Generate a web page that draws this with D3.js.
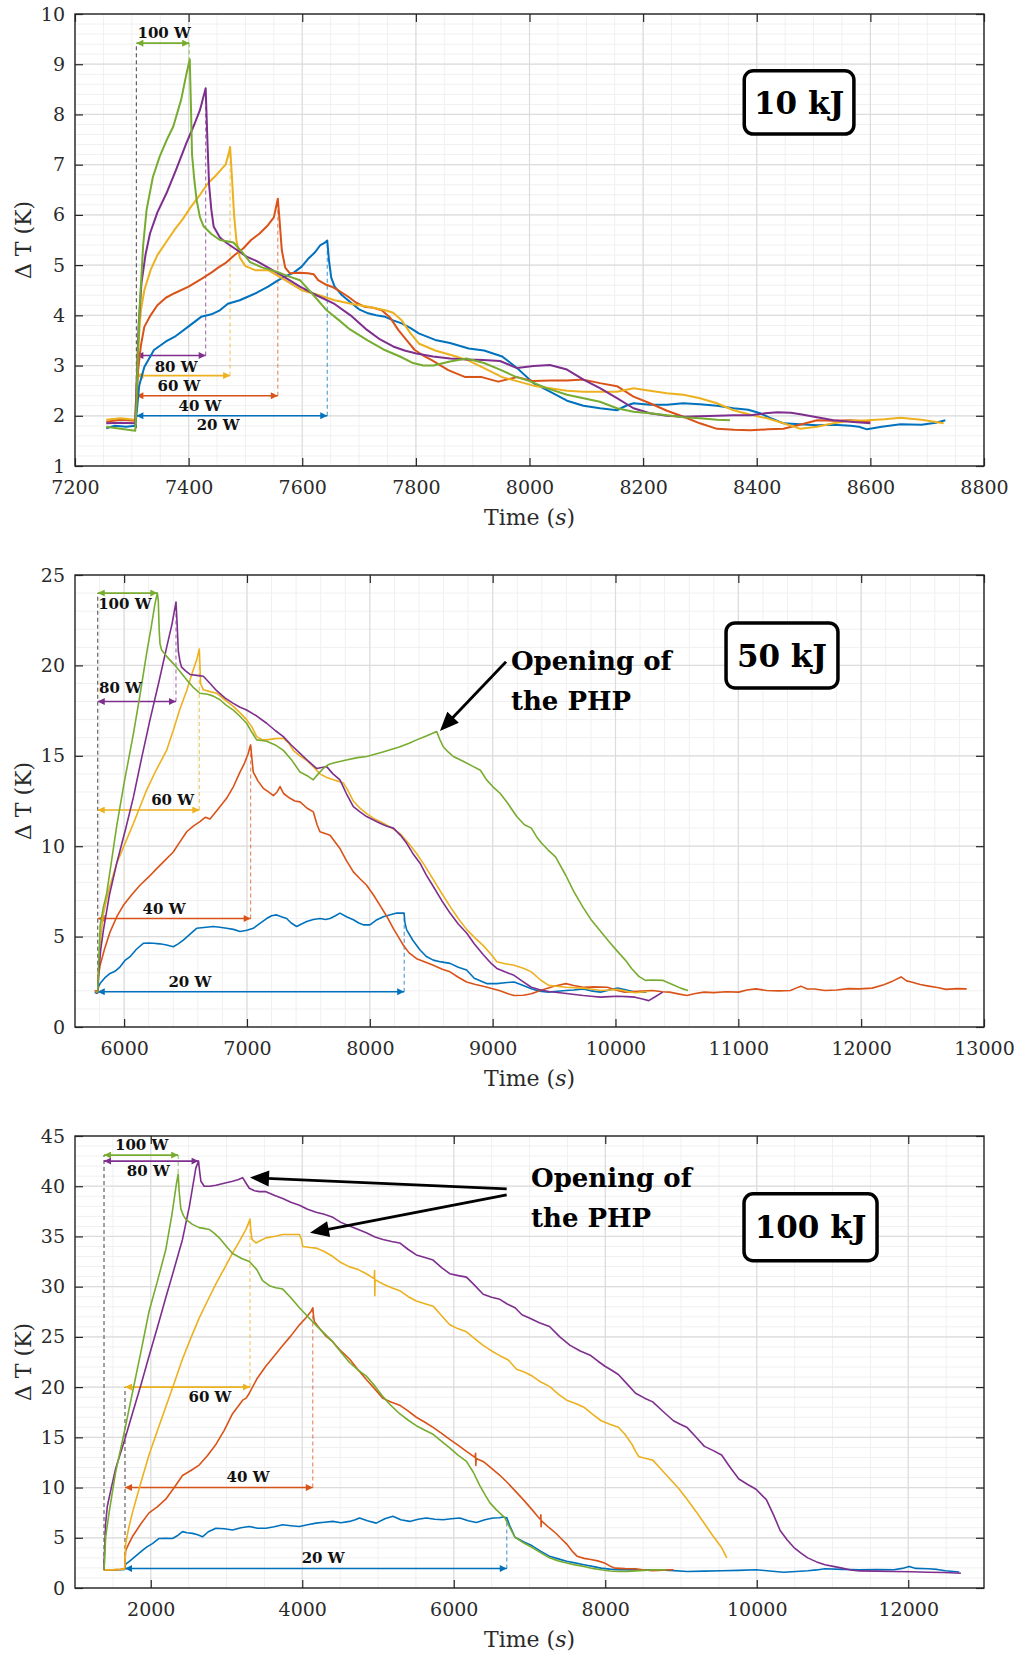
<!DOCTYPE html>
<html><head><meta charset="utf-8">
<script src="https://cdn.jsdelivr.net/npm/d3@7"></script>
<style>body{margin:0;background:#fff}</style>
</head><body>
<svg id="c" width="1021" height="1657"></svg>
<script>
// ---------------- DATA ----------------
const powers = ['20 W','40 W','60 W','80 W','100 W'];
const powerColors = ['#0072BD','#D95319','#EDB120','#7E2F8E','#77AC30'];

// ---- 10 kJ ----
const kJ10_xTicks = [7200,7400,7600,7800,8000,8200,8400,8600,8800];
const kJ10_yTicks = [1,2,3,4,5,6,7,8,9,10];
const kJ10_20W = [[7255,1.75],[7270,1.8],[7290,1.78],[7306,1.8],[7308,2.0],[7313,2.6],[7322,2.97],[7339,3.31],[7360,3.48],[7375,3.57],[7400,3.78],[7422,3.97],[7440,4.02],[7455,4.1],[7469,4.23],[7490,4.3],[7504,4.37],[7520,4.45],[7540,4.57],[7555,4.68],[7569,4.77],[7585,4.85],[7599,4.97],[7610,5.12],[7622,5.25],[7632,5.4],[7640,5.45],[7644,5.49],[7647,5.1],[7651,4.75],[7657,4.57],[7670,4.4],[7687,4.24],[7700,4.12],[7716,4.04],[7730,4.0],[7746,3.97],[7760,3.9],[7775,3.84],[7790,3.75],[7805,3.64],[7834,3.51],[7860,3.45],[7893,3.34],[7920,3.3],[7952,3.18],[7978,2.95],[8007,2.65],[8036,2.48],[8066,2.3],[8095,2.2],[8124,2.15],[8154,2.11],[8170,2.2],[8183,2.25],[8212,2.22],[8242,2.22],[8270,2.25],[8300,2.23],[8330,2.2],[8359,2.15],[8385,2.12],[8406,2.05],[8425,1.95],[8447,1.85],[8476,1.83],[8506,1.81],[8535,1.82],[8565,1.8],[8580,1.78],[8594,1.73],[8620,1.78],[8653,1.83],[8690,1.82],[8715,1.86],[8732,1.91]];
const kJ10_40W = [[7255,1.88],[7280,1.92],[7306,1.9],[7309,2.4],[7311,2.9],[7316,3.4],[7322,3.77],[7333,4.0],[7345,4.2],[7360,4.35],[7375,4.44],[7400,4.57],[7422,4.72],[7440,4.85],[7452,4.95],[7466,5.05],[7481,5.2],[7496,5.33],[7510,5.5],[7525,5.63],[7540,5.8],[7550,5.95],[7557,6.32],[7560,5.9],[7564,5.3],[7570,4.95],[7578,4.84],[7595,4.85],[7610,4.84],[7620,4.82],[7628,4.7],[7640,4.62],[7652,4.57],[7666,4.48],[7681,4.37],[7695,4.25],[7710,4.17],[7725,4.15],[7740,4.1],[7755,3.95],[7769,3.71],[7784,3.5],[7798,3.31],[7813,3.2],[7828,3.11],[7857,2.91],[7887,2.77],[7916,2.77],[7945,2.68],[7978,2.77],[8007,2.69],[8036,2.7],[8066,2.7],[8095,2.72],[8124,2.65],[8154,2.59],[8183,2.38],[8212,2.25],[8242,2.1],[8271,1.98],[8300,1.85],[8330,1.74],[8360,1.72],[8389,1.71],[8420,1.73],[8447,1.74],[8476,1.82],[8506,1.91],[8535,1.9],[8565,1.91],[8600,1.88]];
const kJ10_60W = [[7255,1.92],[7280,1.95],[7306,1.92],[7309,2.8],[7312,3.5],[7316,4.1],[7322,4.5],[7333,4.9],[7345,5.2],[7360,5.45],[7375,5.7],[7390,5.92],[7404,6.16],[7420,6.4],[7434,6.63],[7446,6.76],[7457,6.9],[7465,7.0],[7470,7.2],[7473,7.35],[7476,6.8],[7480,6.0],[7484,5.5],[7490,5.15],[7500,4.98],[7517,4.9],[7540,4.9],[7570,4.7],[7599,4.5],[7630,4.4],[7657,4.3],[7690,4.22],[7716,4.17],[7746,4.1],[7760,4.05],[7775,3.9],[7790,3.65],[7805,3.44],[7834,3.3],[7865,3.2],[7893,3.1],[7920,2.95],[7952,2.77],[7978,2.69],[8007,2.6],[8036,2.55],[8066,2.5],[8095,2.48],[8124,2.48],[8154,2.48],[8183,2.55],[8212,2.5],[8242,2.45],[8271,2.42],[8300,2.35],[8330,2.25],[8359,2.11],[8389,2.02],[8418,1.95],[8447,1.85],[8477,1.74],[8506,1.78],[8535,1.85],[8565,1.9],[8594,1.91],[8625,1.93],[8653,1.96],[8690,1.92],[8729,1.85]];
const kJ10_80W = [[7255,1.85],[7280,1.86],[7306,1.85],[7309,2.8],[7312,3.8],[7317,4.64],[7324,5.2],[7332,5.63],[7345,6.05],[7361,6.43],[7378,6.9],[7396,7.43],[7410,7.8],[7420,8.09],[7430,8.52],[7433,7.5],[7436,6.6],[7440,6.1],[7444,5.77],[7455,5.55],[7467,5.44],[7485,5.3],[7502,5.17],[7520,5.08],[7537,4.97],[7566,4.78],[7596,4.57],[7625,4.4],[7655,4.24],[7685,4.0],[7714,3.71],[7737,3.52],[7760,3.38],[7780,3.3],[7801,3.24],[7830,3.18],[7860,3.14],[7890,3.12],[7919,3.11],[7948,3.09],[7978,2.95],[8007,2.99],[8036,3.01],[8066,2.92],[8095,2.72],[8124,2.55],[8154,2.35],[8183,2.15],[8212,2.05],[8242,2.0],[8271,1.98],[8300,1.99],[8330,2.0],[8359,2.01],[8389,2.01],[8415,2.05],[8436,2.07],[8460,2.06],[8477,2.03],[8506,1.97],[8535,1.91],[8565,1.88],[8600,1.85]];
const kJ10_100W = [[7255,1.78],[7280,1.74],[7306,1.7],[7308,2.2],[7310,3.0],[7314,4.2],[7320,5.4],[7326,6.1],[7337,6.75],[7349,7.16],[7361,7.48],[7373,7.76],[7387,8.3],[7396,8.8],[7402,9.1],[7404,8.2],[7406,7.2],[7410,6.7],[7414,6.3],[7420,5.95],[7426,5.78],[7440,5.62],[7455,5.5],[7479,5.45],[7495,5.25],[7508,5.06],[7530,4.95],[7555,4.87],[7575,4.78],[7596,4.7],[7620,4.4],[7643,4.1],[7665,3.9],[7684,3.72],[7715,3.5],[7743,3.32],[7772,3.18],[7795,3.05],[7813,3.0],[7831,3.0],[7860,3.08],[7889,3.14],[7920,3.05],[7948,2.92],[7975,2.78],[8000,2.69],[8030,2.55],[8066,2.42],[8095,2.35],[8124,2.28],[8154,2.15],[8183,2.08],[8212,2.05],[8242,2.01],[8271,1.97],[8300,1.95],[8330,1.92],[8353,1.91]];
// arrows: [label, arrow level, start, end (heating stop), peak, label x, label y]
const kJ10_arrows = [
  ['100 W',9.42,7308,7401,9.1,7357,9.62],
  ['80 W',3.2,7308,7430,8.52,7378,2.98],
  ['60 W',2.8,7308,7473,7.35,7383,2.6],
  ['40 W',2.4,7308,7557,6.32,7420,2.2],
  ['20 W',2.0,7308,7644,5.49,7452,1.82]];
const kJ10_starts = [[7308,1.75,9.42]];

// ---- 50 kJ ----
const kJ50_xTicks = [6000,7000,8000,9000,10000,11000,12000,13000];
const kJ50_yTicks = [0,5,10,15,20,25];
const kJ50_20W = [[5760,1.9],[5785,1.9],[5790,2.2],[5804,2.4],[5840,2.7],[5885,2.96],[5930,3.1],[5967,3.33],[6010,3.7],[6048,3.89],[6100,4.3],[6156,4.63],[6200,4.65],[6238,4.63],[6290,4.6],[6346,4.54],[6400,4.44],[6440,4.6],[6482,4.81],[6530,5.1],[6590,5.46],[6650,5.5],[6726,5.56],[6780,5.52],[6834,5.46],[6890,5.4],[6943,5.28],[7000,5.35],[7051,5.46],[7100,5.7],[7160,6.0],[7200,6.15],[7242,6.2],[7280,6.1],[7323,6.0],[7360,5.75],[7404,5.56],[7445,5.7],[7486,5.83],[7540,5.95],[7594,6.0],[7640,5.95],[7676,6.0],[7720,6.15],[7757,6.3],[7810,6.1],[7866,5.93],[7910,5.75],[7947,5.65],[8001,5.65],[8050,5.9],[8110,6.1],[8160,6.2],[8219,6.3],[8279,6.3],[8285,5.8],[8300,5.37],[8350,4.8],[8409,4.26],[8460,3.9],[8517,3.7],[8580,3.6],[8653,3.52],[8720,3.3],[8788,3.15],[8850,2.7],[8951,2.4],[9034,2.4],[9100,2.45],[9174,2.49],[9250,2.3],[9315,2.11],[9380,1.98],[9456,1.93],[9530,1.98],[9596,2.02],[9660,2.05],[9737,2.11],[9800,2.0],[9878,1.93],[9950,2.05],[10018,2.15],[10090,2.05],[10159,1.93],[10250,1.93]];
const kJ50_40W = [[5760,2.0],[5785,2.0],[5790,2.8],[5804,3.4],[5840,4.3],[5885,5.25],[5940,6.1],[5994,6.73],[6060,7.3],[6129,7.84],[6200,8.3],[6265,8.76],[6330,9.2],[6400,9.68],[6450,10.2],[6509,10.8],[6560,11.1],[6617,11.36],[6660,11.6],[6699,11.5],[6770,12.1],[6834,12.65],[6890,13.3],[6943,14.1],[6980,14.6],[7011,15.14],[7024,15.5],[7030,15.6],[7038,15.0],[7051,14.1],[7090,13.6],[7133,13.2],[7175,13.0],[7215,12.8],[7245,13.0],[7269,13.3],[7300,12.9],[7350,12.65],[7390,12.5],[7432,12.45],[7490,12.1],[7540,11.9],[7570,11.2],[7594,10.8],[7636,10.7],[7676,10.6],[7720,10.2],[7757,9.87],[7810,9.2],[7866,8.58],[7920,8.2],[7974,7.84],[8030,7.3],[8083,6.73],[8140,6.1],[8192,5.44],[8240,4.9],[8273,4.52],[8320,4.1],[8381,3.78],[8450,3.6],[8517,3.41],[8590,3.2],[8653,3.05],[8720,2.75],[8788,2.49],[8860,2.35],[8924,2.25],[9000,2.12],[9060,2.0],[9120,1.85],[9174,1.74],[9250,1.76],[9315,1.84],[9400,2.05],[9500,2.25],[9596,2.4],[9660,2.3],[9737,2.2],[9830,2.22],[9934,2.2],[10000,2.05],[10074,1.93],[10180,1.98],[10300,2.02],[10380,1.95],[10440,1.93],[10520,1.82],[10581,1.74],[10650,1.85],[10722,1.93],[10800,1.9],[10900,1.95],[11003,1.93],[11070,2.05],[11143,2.11],[11230,2.02],[11330,2.0],[11425,2.02],[11470,2.15],[11509,2.26],[11560,2.1],[11620,2.1],[11706,2.02],[11800,2.05],[11900,2.12],[11987,2.11],[12090,2.15],[12184,2.34],[12260,2.55],[12325,2.77],[12370,2.55],[12409,2.49],[12480,2.35],[12550,2.26],[12620,2.18],[12690,2.08],[12780,2.12],[12859,2.11]];
const kJ50_60W = [[5770,1.9],[5785,1.95],[5795,3.5],[5810,5.0],[5831,6.27],[5880,7.7],[5939,9.04],[6010,10.2],[6075,11.25],[6130,12.2],[6183,13.1],[6260,14.2],[6346,15.3],[6380,16.0],[6400,16.4],[6450,17.5],[6509,18.6],[6550,19.5],[6590,20.3],[6612,20.9],[6617,20.0],[6622,19.0],[6645,18.65],[6700,18.55],[6753,18.46],[6820,18.1],[6889,17.73],[6940,17.4],[6997,17.0],[7040,16.6],[7079,16.06],[7120,15.9],[7160,15.88],[7230,15.95],[7296,15.97],[7340,15.7],[7377,15.3],[7430,15.0],[7486,14.75],[7540,14.4],[7594,14.0],[7650,13.8],[7703,13.67],[7740,13.6],[7784,13.5],[7820,13.1],[7866,12.5],[7920,12.1],[7974,11.8],[8040,11.5],[8110,11.27],[8180,11.0],[8246,10.7],[8310,10.2],[8381,9.6],[8450,8.9],[8517,8.15],[8585,7.4],[8653,6.67],[8720,6.0],[8788,5.4],[8860,4.9],[8924,4.5],[8990,4.0],[9034,3.61],[9100,3.5],[9174,3.42],[9250,3.25],[9315,3.05],[9390,2.6],[9456,2.3],[9520,2.25],[9596,2.2],[9660,2.18],[9737,2.15],[9800,2.1],[9878,2.02],[9950,2.05],[10018,2.08],[10090,1.98],[10159,1.89],[10220,1.94],[10271,1.96]];
const kJ50_80W = [[5770,1.85],[5785,1.9],[5795,3.2],[5810,4.3],[5831,5.35],[5880,7.3],[5939,9.04],[6010,10.9],[6075,12.7],[6140,14.8],[6210,16.97],[6280,19.0],[6346,21.0],[6390,22.3],[6422,23.5],[6430,22.5],[6441,20.8],[6455,20.2],[6468,19.9],[6500,19.7],[6536,19.5],[6590,19.45],[6645,19.4],[6700,19.0],[6753,18.6],[6820,18.2],[6889,17.9],[6940,17.7],[6997,17.53],[7080,17.2],[7160,16.8],[7230,16.4],[7296,16.06],[7360,15.6],[7432,15.13],[7500,14.7],[7567,14.3],[7610,14.35],[7649,14.4],[7700,14.0],[7757,13.67],[7810,12.9],[7866,12.19],[7920,11.9],[7974,11.64],[8030,11.45],[8083,11.27],[8140,11.1],[8192,11.0],[8250,10.6],[8300,10.16],[8350,9.6],[8409,9.06],[8460,8.4],[8517,7.77],[8585,7.0],[8653,6.3],[8720,5.7],[8788,5.2],[8850,4.6],[8924,4.0],[8990,3.5],[9034,3.24],[9100,3.05],[9174,2.86],[9250,2.5],[9315,2.2],[9390,2.05],[9456,1.96],[9600,1.85],[9737,1.74],[9800,1.7],[9878,1.65],[9950,1.68],[10018,1.7],[10090,1.68],[10159,1.65],[10220,1.55],[10271,1.46],[10330,1.7],[10384,1.93]];
const kJ50_100W = [[5770,1.9],[5785,1.95],[5792,3.5],[5805,5.6],[5830,6.6],[5858,7.39],[5900,9.3],[5939,11.1],[6000,13.5],[6075,16.2],[6130,18.4],[6183,20.67],[6220,22.1],[6251,23.4],[6270,24.0],[6278,23.6],[6285,22.0],[6292,21.2],[6305,20.85],[6346,20.5],[6400,20.1],[6450,19.7],[6509,19.2],[6560,18.8],[6617,18.46],[6680,18.4],[6726,18.3],[6780,18.1],[6830,17.8],[6889,17.53],[6940,17.2],[6997,16.8],[7040,16.3],[7079,15.88],[7120,15.85],[7160,15.8],[7230,15.6],[7296,15.3],[7360,14.8],[7432,14.1],[7490,13.9],[7540,13.67],[7580,14.0],[7622,14.3],[7660,14.5],[7703,14.6],[7800,14.75],[7900,14.9],[7974,14.96],[8100,15.2],[8246,15.5],[8320,15.7],[8381,15.88],[8460,16.1],[8544,16.34],[8570,15.9],[8598,15.5],[8640,15.2],[8680,14.96],[8760,14.7],[8843,14.4],[8900,14.2],[8951,13.67],[9000,13.3],[9060,12.93],[9120,12.4],[9196,11.64],[9259,11.19],[9315,11.0],[9360,10.5],[9399,10.16],[9450,9.8],[9512,9.41],[9596,8.38],[9660,7.5],[9737,6.6],[9800,5.95],[9878,5.29],[9950,4.7],[10018,4.17],[10080,3.7],[10131,3.24],[10190,2.8],[10243,2.58],[10300,2.6],[10384,2.58],[10430,2.45],[10468,2.34],[10530,2.15],[10590,2.02]];
const kJ50_arrows = [
  ['100 W',24.0,5785,6270,24.0,6006,23.4],
  ['80 W',18.0,5785,6422,23.5,5970,18.75],
  ['60 W',12.0,5785,6612,20.9,6395,12.55],
  ['40 W',6.0,5785,7030,15.6,6325,6.55],
  ['20 W',1.95,5785,8280,6.3,6535,2.5]];
const kJ50_starts = [[5785,1.9,24.0]];

// ---- 100 kJ ----
const kJ100_xTicks = [2000,4000,6000,8000,10000,12000];
const kJ100_yTicks = [0,5,10,15,20,25,30,35,40,45];
const kJ100_20W = [[1380,1.8],[1500,1.78],[1600,1.82],[1655,1.85],[1669,2.38],[1710,2.6],[1757,2.89],[1820,3.3],[1890,3.74],[1950,4.1],[2022,4.42],[2110,4.93],[2200,4.95],[2287,4.93],[2350,5.2],[2419,5.61],[2480,5.5],[2551,5.44],[2620,5.3],[2683,5.1],[2760,5.6],[2860,5.95],[2970,5.9],[3080,5.78],[3190,6.0],[3301,6.12],[3410,5.95],[3521,5.95],[3630,6.1],[3742,6.29],[3850,6.2],[3963,6.12],[4070,6.3],[4183,6.46],[4290,6.55],[4404,6.63],[4510,6.5],[4624,6.63],[4700,6.8],[4756,6.97],[4860,6.7],[4977,6.46],[5090,6.9],[5197,7.14],[5300,6.8],[5418,6.63],[5530,6.85],[5638,6.97],[5750,6.85],[5859,6.8],[5970,6.9],[6080,6.97],[6190,6.7],[6300,6.53],[6410,6.8],[6520,6.97],[6600,7.0],[6653,7.07],[6700,7.0],[6740,6.2],[6809,5.05],[6920,4.6],[7036,4.2],[7150,3.65],[7264,3.17],[7380,2.9],[7491,2.66],[7600,2.5],[7718,2.32],[7830,2.15],[7945,1.98],[8060,1.88],[8173,1.81],[8400,1.8],[8627,1.81],[8850,1.75],[9082,1.64],[9300,1.68],[9536,1.71],[9760,1.75],[9991,1.81],[10170,1.7],[10355,1.57],[10520,1.65],[10673,1.71],[10790,1.8],[10900,1.91],[11130,1.85],[11355,1.81],[11580,1.83],[11809,1.81],[11920,1.95],[12013,2.15],[12100,1.95],[12264,1.91],[12380,1.85],[12491,1.71],[12600,1.65],[12673,1.6]];
const kJ100_40W = [[1380,1.8],[1500,1.82],[1600,1.85],[1655,1.9],[1662,2.9],[1669,3.74],[1710,4.4],[1757,5.1],[1870,6.4],[1978,7.48],[2090,8.1],[2198,8.84],[2310,10.0],[2419,11.2],[2530,11.7],[2639,12.24],[2750,13.2],[2860,14.29],[2970,15.7],[3080,17.35],[3213,18.7],[3260,18.9],[3301,19.39],[3400,20.8],[3521,22.1],[3630,23.1],[3742,24.15],[3850,25.1],[3963,26.2],[4050,26.9],[4117,27.55],[4139,27.9],[4150,27.0],[4161,26.5],[4227,25.85],[4310,25.1],[4404,24.5],[4510,23.6],[4624,22.8],[4740,21.7],[4845,20.75],[4960,19.8],[5065,18.88],[5180,18.5],[5286,18.2],[5400,17.6],[5506,17.0],[5620,16.5],[5727,15.99],[5840,15.4],[5947,14.8],[6060,14.2],[6168,13.6],[6280,13.0],[6288,13.4],[6292,12.2],[6296,12.9],[6388,12.6],[6500,11.9],[6609,11.22],[6720,10.4],[6829,9.52],[6930,8.7],[7036,7.78],[7100,7.2],[7148,6.8],[7150,7.3],[7153,6.1],[7156,6.7],[7173,6.59],[7260,6.0],[7355,5.4],[7420,4.9],[7491,4.37],[7560,3.7],[7627,3.17],[7720,2.95],[7809,2.83],[7900,2.7],[7991,2.49],[8060,2.2],[8127,1.98],[8260,1.93],[8400,1.91],[8520,1.8],[8627,1.71],[8760,1.78],[8900,1.81]];
const kJ100_60W = [[1380,1.8],[1500,1.8],[1600,1.85],[1655,1.9],[1662,3.0],[1669,4.42],[1710,6.0],[1757,7.48],[1870,10.5],[1978,13.27],[2090,15.7],[2198,18.03],[2310,20.4],[2419,22.8],[2530,24.9],[2639,26.87],[2750,28.6],[2860,30.27],[2970,31.8],[3080,33.33],[3170,34.5],[3257,35.7],[3300,36.5],[3310,36.73],[3322,35.5],[3336,34.7],[3389,34.35],[3450,34.6],[3521,34.86],[3630,35.0],[3742,35.2],[3850,35.2],[3963,35.2],[3990,34.7],[4007,34.0],[4100,33.9],[4183,33.84],[4290,33.5],[4404,33.0],[4510,32.4],[4624,31.97],[4740,31.7],[4845,31.29],[4950,30.8],[4955,31.6],[4958,29.1],[4961,30.7],[5065,30.27],[5180,29.9],[5286,29.6],[5400,29.0],[5506,28.57],[5620,28.3],[5727,28.06],[5840,27.1],[5947,26.2],[6060,25.8],[6168,25.5],[6280,24.8],[6388,24.15],[6500,23.6],[6609,23.13],[6720,22.7],[6829,21.77],[6930,21.5],[7036,21.1],[7150,20.5],[7264,20.07],[7380,19.3],[7491,18.7],[7600,18.4],[7718,18.0],[7830,17.3],[7945,16.65],[8060,16.3],[8173,16.0],[8260,15.3],[8355,14.27],[8400,13.6],[8445,13.07],[8540,12.9],[8627,12.73],[8740,11.8],[8855,10.85],[8970,9.9],[9082,8.8],[9200,7.6],[9309,6.42],[9420,5.2],[9536,4.03],[9605,3.0]];
const kJ100_80W = [[1380,1.8],[1392,4.0],[1405,6.5],[1427,8.16],[1480,10.0],[1537,11.9],[1650,14.6],[1757,17.35],[1870,20.2],[1978,23.1],[2090,26.0],[2198,28.9],[2310,31.8],[2419,34.7],[2510,38.0],[2595,41.8],[2631,42.5],[2645,41.5],[2662,40.5],[2706,40.0],[2780,40.0],[2860,40.1],[2970,40.3],[3080,40.5],[3150,40.65],[3213,40.85],[3250,40.4],[3301,39.8],[3370,39.55],[3433,39.46],[3521,39.46],[3630,39.1],[3742,38.78],[3850,38.4],[3963,38.1],[4070,37.7],[4183,37.4],[4290,37.2],[4404,36.9],[4510,36.4],[4624,36.05],[4740,35.7],[4845,35.37],[4960,34.95],[5065,34.69],[5180,34.5],[5286,34.35],[5400,33.7],[5506,33.16],[5620,32.9],[5727,32.65],[5840,31.9],[5947,31.29],[6060,31.1],[6168,30.95],[6280,30.1],[6388,29.25],[6500,28.95],[6609,28.74],[6700,28.3],[6809,27.9],[6900,27.2],[6991,26.9],[7130,26.4],[7264,26.04],[7400,25.0],[7536,24.16],[7670,23.6],[7809,23.14],[7900,22.6],[7991,22.1],[8080,21.7],[8173,21.26],[8290,20.3],[8400,19.39],[8520,18.9],[8627,18.53],[8760,17.6],[8900,16.65],[8990,16.3],[9082,15.97],[9200,15.0],[9309,14.1],[9420,13.7],[9536,13.24],[9650,12.0],[9764,10.85],[9880,10.3],[9991,9.83],[10060,9.3],[10127,8.8],[10220,7.3],[10309,5.73],[10400,4.8],[10491,4.03],[10580,3.5],[10673,3.0],[10790,2.6],[10900,2.32],[11010,2.15],[11127,1.98],[11240,1.8],[11355,1.7],[11580,1.68],[11809,1.64],[12040,1.62],[12264,1.57],[12480,1.55],[12695,1.47]];
const kJ100_100W = [[1380,1.8],[1390,2.5],[1398,4.0],[1405,5.1],[1450,7.5],[1537,11.56],[1650,15.5],[1757,19.4],[1870,23.5],[1978,27.55],[2090,30.6],[2198,33.67],[2280,37.2],[2340,40.3],[2362,41.2],[2375,39.5],[2397,37.76],[2430,37.1],[2463,36.7],[2550,36.2],[2639,35.88],[2700,35.8],[2772,35.7],[2840,35.3],[2904,34.86],[3000,34.0],[3080,33.3],[3200,32.8],[3301,32.5],[3400,31.7],[3477,30.6],[3566,30.1],[3650,29.9],[3742,29.76],[3850,28.9],[3963,27.9],[4050,27.2],[4139,26.5],[4230,25.8],[4315,25.17],[4404,24.5],[4520,23.4],[4624,22.45],[4740,21.7],[4845,21.1],[4960,20.1],[5065,19.05],[5180,18.1],[5286,17.35],[5400,16.7],[5506,16.16],[5620,15.7],[5727,15.3],[5840,14.6],[5947,13.95],[6060,13.2],[6168,12.6],[6260,11.5],[6344,10.2],[6420,9.2],[6476,8.5],[6560,7.8],[6673,7.0],[6740,6.0],[6809,5.05],[6920,4.5],[7036,4.03],[7150,3.5],[7264,3.0],[7380,2.7],[7491,2.49],[7600,2.3],[7718,2.15],[7830,1.95],[7945,1.81],[8060,1.7],[8173,1.64],[8290,1.66],[8400,1.7],[8520,1.75],[8627,1.81],[8720,1.8],[8809,1.81]];
const kJ100_arrows = [
  ['100 W',43.1,1383,2362,41.2,1880,44.15],
  ['80 W',42.5,1383,2631,42.5,1968,41.55],
  ['60 W',20.0,1660,3310,36.73,2782,19.05],
  ['40 W',10.0,1660,4139,27.9,3285,11.1],
  ['20 W',1.94,1660,6700,7.07,4276,3.0]];
const kJ100_starts = [[1383,1.8,43.1],[1660,1.8,20.0]];

// annotations (data coordinates)
const kJ50_note = {lines:['Opening of','the PHP'], x:9149, y:[19.75,17.53], arrows:[[[9109,20.2],[8571,16.37]]]};
const kJ100_note = {lines:['Opening of','the PHP'], x:7020, y:[39.93,35.96], arrows:[[[6699,39.73],[3310,40.86]],[[6699,39.14],[4102,35.36]]]};

// ---------------- DRAWING ----------------
const svg = d3.select('#c');
svg.append('rect').attr('width',1021).attr('height',1657).attr('fill','#fff');
const defs = svg.append('defs');
powerColors.forEach((c,i)=>{
  defs.append('marker').attr('id','ah'+i).attr('viewBox','0 0 10 10')
    .attr('refX',10).attr('refY',5).attr('markerWidth',8).attr('markerHeight',7)
    .attr('markerUnits','userSpaceOnUse').attr('orient','auto-start-reverse')
    .append('path').attr('d','M0,0 L10,5 L0,10 z').attr('fill',c);
});

const L = 75, R = 984, H = 452;
const FONT = "'DejaVu Serif', serif";
const AX = '#262626';

function drawPanel(cfg, idx){
  const top = cfg.top, bottom = top + H;
  const g = svg.append('g');
  const x = d3.scaleLinear().domain(cfg.xDomain).range([L,R]);
  const y = d3.scaleLinear().domain(cfg.yDomain).range([bottom, top]);

  // minor grid
  const xm = d3.range(cfg.xDomain[0], cfg.xDomain[1]+1e-6, cfg.xMinor);
  const ym = d3.range(cfg.yDomain[0], cfg.yDomain[1]+1e-6, cfg.yMinor);
  g.append('g').selectAll('line').data(xm).join('line')
    .attr('x1',d=>x(d)).attr('x2',d=>x(d)).attr('y1',top).attr('y2',bottom)
    .attr('stroke','#f0f0f0').attr('stroke-width',1);
  g.append('g').selectAll('line').data(ym).join('line')
    .attr('y1',d=>y(d)).attr('y2',d=>y(d)).attr('x1',L).attr('x2',R)
    .attr('stroke','#f0f0f0').attr('stroke-width',1);
  // major grid
  g.append('g').selectAll('line').data(cfg.xTicks).join('line')
    .attr('x1',d=>x(d)).attr('x2',d=>x(d)).attr('y1',top).attr('y2',bottom)
    .attr('stroke','#dcdcdc').attr('stroke-width',1.2);
  g.append('g').selectAll('line').data(cfg.yTicks).join('line')
    .attr('y1',d=>y(d)).attr('y2',d=>y(d)).attr('x1',L).attr('x2',R)
    .attr('stroke','#dcdcdc').attr('stroke-width',1.2);

  const clipId = 'clip'+idx;
  defs.append('clipPath').attr('id',clipId).append('rect')
    .attr('x',L).attr('y',top).attr('width',R-L).attr('height',H);

  // annotation dashed verticals (start)
  const ann = g.append('g');
  cfg.starts.forEach(s=>{
    ann.append('line').attr('x1',x(s[0])).attr('x2',x(s[0])).attr('y1',y(s[1])).attr('y2',y(s[2]))
      .attr('stroke','#555').attr('stroke-width',1.1).attr('stroke-dasharray','4,3');
  });
  // colored dashed verticals at end of heating
  cfg.arrows.forEach(a=>{
    const ci = powers.indexOf(a[0]);
    ann.append('line').attr('x1',x(a[3])).attr('x2',x(a[3])).attr('y1',y(a[1])).attr('y2',y(a[4]))
      .attr('stroke',powerColors[ci]).attr('stroke-width',1.1).attr('stroke-dasharray','4,3').attr('opacity',0.7);
  });

  // data lines
  const line = d3.line().x(d=>x(d[0])).y(d=>y(d[1]));
  const lg = g.append('g').attr('clip-path',`url(#${clipId})`);
  cfg.series.forEach((s,i)=>{
    lg.append('path').attr('d',line(s)).attr('fill','none')
      .attr('stroke',powerColors[i]).attr('stroke-width',cfg.lw)
      .attr('stroke-linejoin','round');
  });

  // double arrows + labels
  cfg.arrows.forEach(a=>{
    const ci = powers.indexOf(a[0]);
    ann.append('line').attr('x1',x(a[2])).attr('x2',x(a[3])).attr('y1',y(a[1])).attr('y2',y(a[1]))
      .attr('stroke',powerColors[ci]).attr('stroke-width',1.6)
      .attr('marker-start',`url(#ah${ci})`).attr('marker-end',`url(#ah${ci})`);
    g.append('text').attr('x',x(a[5])).attr('y',y(a[6])).attr('dy','0.36em')
      .attr('text-anchor','middle').attr('font-family',FONT).attr('font-weight','bold')
      .attr('font-size',15).attr('fill','#111').text(a[0]);
  });

  // axes (inward ticks on all sides)
  const fmt = d3.format('d');
  const ax = g.append('g').attr('transform',`translate(0,${bottom})`)
    .call(d3.axisBottom(x).tickValues(cfg.xTicks).tickSizeInner(-8).tickSizeOuter(0).tickPadding(15).tickFormat(fmt));
  const ay = g.append('g').attr('transform',`translate(${L},0)`)
    .call(d3.axisLeft(y).tickValues(cfg.yTicks).tickSizeInner(-8).tickSizeOuter(0).tickPadding(10).tickFormat(fmt));
  const at = g.append('g').attr('transform',`translate(0,${top})`)
    .call(d3.axisTop(x).tickValues(cfg.xTicks).tickSizeInner(-8).tickSizeOuter(0).tickFormat(''));
  const ar = g.append('g').attr('transform',`translate(${R},0)`)
    .call(d3.axisRight(y).tickValues(cfg.yTicks).tickSizeInner(-8).tickSizeOuter(0).tickFormat(''));
  [ax,ay,at,ar].forEach(a=>{
    a.select('.domain').remove();
    a.selectAll('line').attr('stroke',AX).attr('stroke-width',1.2);
    a.selectAll('text').attr('font-family',FONT).attr('font-size',19).attr('fill','#2a2a2a');
  });
  g.append('rect').attr('x',L).attr('y',top).attr('width',R-L).attr('height',H)
    .attr('fill','none').attr('stroke',AX).attr('stroke-width',1.4);

  // axis titles
  const xt = g.append('text').attr('x',(L+R)/2).attr('y',bottom+59).attr('text-anchor','middle')
    .attr('font-family',FONT).attr('font-size',22).attr('fill','#2a2a2a');
  xt.append('tspan').text('Time (');
  xt.append('tspan').attr('font-style','italic').text('s');
  xt.append('tspan').text(')');
  g.append('text').attr('transform',`translate(31,${(top+bottom)/2}) rotate(-90)`).attr('text-anchor','middle')
    .attr('font-family',FONT).attr('font-size',22).attr('fill','#2a2a2a').text('Δ T (K)');

  // energy box
  const b = cfg.box;
  const bx = x(b.x0), by = y(b.y0), bw = x(b.x1)-x(b.x0), bh = y(b.y1)-y(b.y0);
  g.append('rect').attr('x',bx).attr('y',by).attr('width',bw).attr('height',bh).attr('rx',9)
    .attr('fill','#fff').attr('stroke','#000').attr('stroke-width',3.5);
  g.append('text').attr('x',bx+bw/2).attr('y',by+bh/2).attr('dy','0.36em').attr('text-anchor','middle')
    .attr('font-family',FONT).attr('font-weight','bold').attr('font-size',31).attr('fill','#000').text(b.label);

  // "Opening of the PHP" note
  if(cfg.note){
    const n = cfg.note;
    n.lines.forEach((t,i)=>{
      g.append('text').attr('x',x(n.x)).attr('y',y(n.y[i])).attr('font-family',FONT)
        .attr('font-weight','bold').attr('font-size',26).attr('fill','#000').text(t);
    });
    n.arrows.forEach(ar2=>{
      const p0=[x(ar2[0][0]),y(ar2[0][1])], p1=[x(ar2[1][0]),y(ar2[1][1])];
      const dx=p1[0]-p0[0], dy=p1[1]-p0[1], len=Math.hypot(dx,dy);
      const ux=dx/len, uy=dy/len, hl=19, hw=8;
      const bxp=p1[0]-ux*hl, byp=p1[1]-uy*hl;
      g.append('line').attr('x1',p0[0]).attr('y1',p0[1]).attr('x2',bxp+ux*2).attr('y2',byp+uy*2)
        .attr('stroke','#000').attr('stroke-width',2.8);
      g.append('path').attr('d',`M${p1[0]},${p1[1]}L${bxp-uy*hw},${byp+ux*hw}L${bxp+uy*hw},${byp-ux*hw}Z`)
        .attr('fill','#000');
    });
  }
}

const panels = [
  {top:14, xDomain:[7200,8800], yDomain:[1,10], xTicks:kJ10_xTicks, yTicks:kJ10_yTicks, xMinor:50, yMinor:0.2,
   series:[kJ10_20W,kJ10_40W,kJ10_60W,kJ10_80W,kJ10_100W], arrows:kJ10_arrows, starts:kJ10_starts, lw:2,
   box:{label:'10 kJ', x0:8378, x1:8571, y0:8.87, y1:7.61}, note:null},
  {top:575, xDomain:[5600,13000], yDomain:[0,25], xTicks:kJ50_xTicks, yTicks:kJ50_yTicks, xMinor:200, yMinor:1,
   series:[kJ50_20W,kJ50_40W,kJ50_60W,kJ50_80W,kJ50_100W], arrows:kJ50_arrows, starts:kJ50_starts, lw:1.6,
   box:{label:'50 kJ', x0:10900, x1:11811, y0:22.35, y1:18.75}, note:kJ50_note},
  {top:1136, xDomain:[1000,13000], yDomain:[0,45], xTicks:kJ100_xTicks, yTicks:kJ100_yTicks, xMinor:500, yMinor:1,
   series:[kJ100_20W,kJ100_40W,kJ100_60W,kJ100_80W,kJ100_100W], arrows:kJ100_arrows, starts:kJ100_starts, lw:1.6,
   box:{label:'100 kJ', x0:9832, x1:11588, y0:39.24, y1:32.58}, note:kJ100_note}
];
panels.forEach(drawPanel);
</script>
</body></html>
